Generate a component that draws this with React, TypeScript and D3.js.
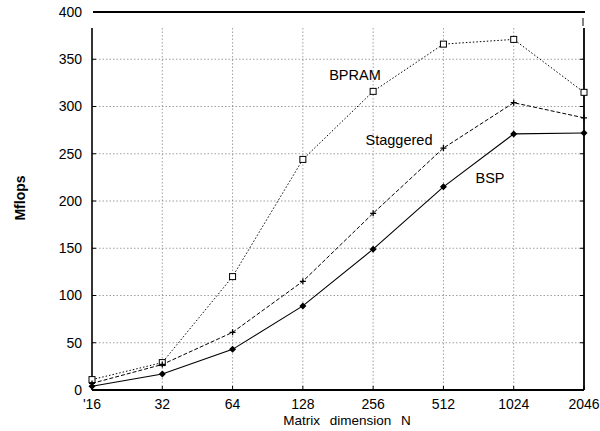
import React from "react";
import * as d3 from "d3";

const categories = ["'16", "32", "64", "128", "256", "512", "1024", "2046"];
const yTicks = [0, 50, 100, 150, 200, 250, 300, 350, 400];
const bpram = [11, 29, 120, 244, 316, 366, 371, 315];
const staggered = [7, 27, 61, 115, 187, 256, 304, 288];
const bsp = [4, 17, 43, 89, 149, 215, 271, 272];

const W = 600, H = 431;
const left = 92, right = 584, top = 12, bottom = 390;

export default function App() {
  const x = d3.scalePoint<string>().domain(categories).range([left, right]);
  const y = d3.scaleLinear().domain([0, 400]).range([bottom, top]);
  const line = d3
    .line<number>()
    .x((_, i) => x(categories[i]) as number)
    .y((d) => y(d));
  const font = "Liberation Sans, Arial, sans-serif";
  const gridTop = 28;
  return (
    <svg width={W} height={H} style={{ position: "absolute", left: 0, top: 0 }} fontFamily={font}>
      <rect width={W} height={H} fill="#fff" />
      {/* grid */}
      {yTicks.slice(1, -1).map((t) => (
        <line key={"gy" + t} x1={left} x2={right} y1={y(t)} y2={y(t)} stroke="#777" strokeWidth={0.7} strokeDasharray="1.5,2" />
      ))}
      {categories.slice(1, -1).map((c) => (
        <line key={"gx" + c} x1={x(c)} x2={x(c)} y1={gridTop} y2={bottom} stroke="#777" strokeWidth={0.7} strokeDasharray="1.5,2" />
      ))}
      {/* axes */}
      <line x1={left + 1} x2={right + 1} y1={y(400)} y2={y(400)} stroke="#000" strokeWidth={2.2} />
      <line x1={left} x2={left} y1={gridTop} y2={bottom} stroke="#000" strokeWidth={1.6} />
      <line x1={right} x2={right} y1={gridTop} y2={bottom} stroke="#000" strokeWidth={1.8} />
      <line x1={right - 1} x2={right - 1} y1={18} y2={26} stroke="#000" strokeWidth={1} />
      <line x1={left} x2={right} y1={bottom} y2={bottom} stroke="#000" strokeWidth={1.8} />
      {yTicks.slice(0, -1).map((t) => (
        <g key={"ty" + t}>
          <line x1={left} x2={left + 4} y1={y(t)} y2={y(t)} stroke="#000" />
          <line x1={right - 4} x2={right} y1={y(t)} y2={y(t)} stroke="#000" />
        </g>
      ))}
      {categories.map((c) => (
        <line key={"tx" + c} x1={x(c)} x2={x(c)} y1={bottom} y2={bottom - 4} stroke="#000" />
      ))}
      {yTicks.map((t) => (
        <text key={"ly" + t} x={82} y={y(t)} dy="0.35em" textAnchor="end" fontSize={14}>
          {t}
        </text>
      ))}
      {categories.map((c) => (
        <text key={"lx" + c} x={x(c)} y={409} textAnchor="middle" fontSize={14}>
          {c}
        </text>
      ))}
      <text x={347} y={425} textAnchor="middle" fontSize={13.5} wordSpacing={6}>
        Matrix dimension N
      </text>
      <text transform="translate(25,198) rotate(-90)" textAnchor="middle" fontSize={14} fontWeight="bold">
        Mflops
      </text>
      {/* series */}
      <path d={line(bpram) || ""} fill="none" stroke="#000" strokeWidth={1} strokeDasharray="1.5,2" />
      <path d={line(staggered) || ""} fill="none" stroke="#000" strokeWidth={1} strokeDasharray="4,2" />
      <path d={line(bsp) || ""} fill="none" stroke="#000" strokeWidth={1.1} />
      {bpram.map((v, i) => (
        <rect key={"mb" + i} x={(x(categories[i]) as number) - 3} y={y(v) - 3} width={6} height={6} fill="#fff" stroke="#000" strokeWidth={1} />
      ))}
      {staggered.map((v, i) => {
        const cx = x(categories[i]) as number, cy = y(v);
        return (
          <path key={"ms" + i} d={`M${cx - 3},${cy}H${cx + 3}M${cx},${cy - 3}V${cy + 3}`} stroke="#000" strokeWidth={1.3} />
        );
      })}
      {bsp.map((v, i) => {
        const cx = x(categories[i]) as number, cy = y(v);
        return <path key={"mp" + i} d={`M${cx},${cy - 3.5}L${cx + 3.5},${cy}L${cx},${cy + 3.5}L${cx - 3.5},${cy}Z`} fill="#000" />;
      })}
      <text x={355} y={80} textAnchor="middle" fontSize={14.5}>BPRAM</text>
      <text x={399} y={145} textAnchor="middle" fontSize={14.5}>Staggered</text>
      <text x={490} y={183} textAnchor="middle" fontSize={14.5}>BSP</text>
    </svg>
  );
}
